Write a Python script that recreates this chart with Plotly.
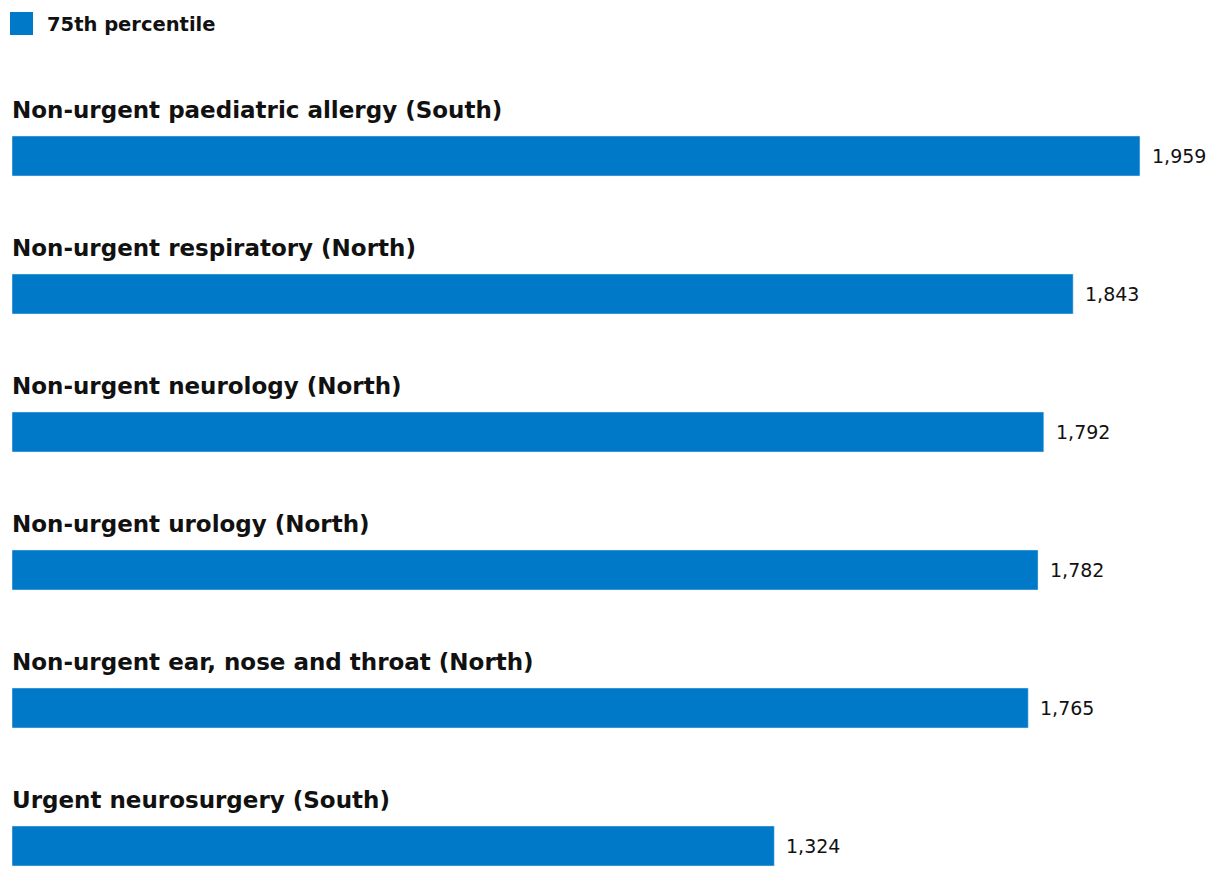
import plotly.graph_objects as go

categories = [
    "Non-urgent paediatric allergy (South)",
    "Non-urgent respiratory (North)",
    "Non-urgent neurology (North)",
    "Non-urgent urology (North)",
    "Non-urgent ear, nose and throat (North)",
    "Urgent neurosurgery (South)",
]
values = [1959, 1843, 1792, 1782, 1765, 1324]
series_name = "75th percentile"
bar_color = "#0079C8"
label_font = "DejaVu Sans, sans-serif"

pos = list(range(len(categories)))

fig = go.Figure()
fig.add_trace(go.Bar(
    x=values, y=pos, orientation="h", marker_color=bar_color,
    width=0.29, name=series_name, showlegend=False, hoverinfo="x",
))

annotations = []
for p, c, v in zip(pos, categories, values):
    annotations.append(dict(x=0, y=p, xref="x", yref="y", text=c, showarrow=False,
                            xanchor="left", yanchor="middle", yshift=46, xshift=-2,
                            font=dict(size=23, color="#111111", family=label_font, weight=700)))
    annotations.append(dict(x=v, y=p, xref="x", yref="y", text=f"{v:,}", showarrow=False,
                            xanchor="left", yanchor="middle", xshift=10,
                            font=dict(size=19, color="#111111", family=label_font)))

W, H = 1208, 868
annotations.append(dict(x=(45 - 12) / W, y=1 - 16 / H, xref="paper", yref="paper", text=series_name,
                        showarrow=False, xanchor="left", yanchor="middle",
                        font=dict(size=19.5, color="#111111", family=label_font, weight=700)))

fig.update_layout(
    width=1212, height=868,
    margin=dict(l=4, r=0, t=0, b=0),
    paper_bgcolor="white", plot_bgcolor="white",
    xaxis=dict(range=[0, 2098], visible=False, fixedrange=True),
    yaxis=dict(range=[5.2174, -1.0725], visible=False, fixedrange=True),
    annotations=annotations,
    showlegend=False,
)
fig.add_shape(type="rect", xref="paper", yref="paper",
              x0=(10 - 12) / W, x1=(33 - 12) / W, y0=1 - 27 / H, y1=1 - 4 / H,
              fillcolor=bar_color, line_width=0)

fig.write_html("out.html")
